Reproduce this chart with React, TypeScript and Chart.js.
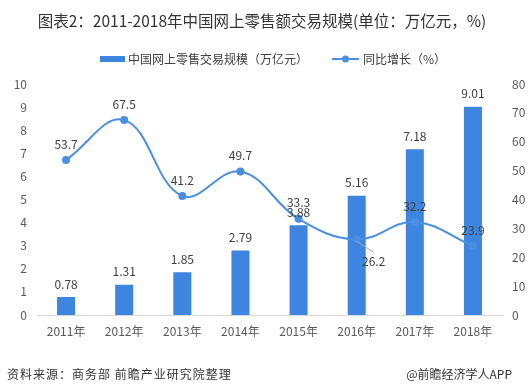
import React, { useEffect, useRef } from "react";
import { Chart, registerables } from "chart.js";
Chart.register(...registerables);

const categories = ["2011年", "2012年", "2013年", "2014年", "2015年", "2016年", "2017年", "2018年"];
const retailScale = [0.78, 1.31, 1.85, 2.79, 3.88, 5.16, 7.18, 9.01];
const growthRate = [53.7, 67.5, 41.2, 49.7, 33.3, 26.2, 32.2, 23.9];
const seriesNames = ["中国网上零售交易规模（万亿元）", "同比增长（%）"];
const titleText = "图表2：2011-2018年中国网上零售额交易规模(单位：万亿元，%)";
const sourceText = "资料来源：商务部 前瞻产业研究院整理";
const brandText = "@前瞻经济学人APP";

const FONT = '"Noto Sans CJK SC", "Microsoft YaHei", sans-serif';
const BAR_COLOR = "#3d85df";
const LINE_COLOR = "#4a8fe2";
const TEXT = "#404040";

const overlayPlugin = {
  id: "overlay",
  afterDatasetsDraw(chart: any) {
    const ctx = chart.ctx;
    ctx.save();
    ctx.font = `12px ${FONT}`;
    ctx.fillStyle = TEXT;
    ctx.textAlign = "center";
    ctx.textBaseline = "middle";
    const barMeta = chart.getDatasetMeta(0);
    barMeta.data.forEach((el: any, i: number) => {
      ctx.fillText(String(retailScale[i]), el.x, el.y - 13);
    });
    const lineMeta = chart.getDatasetMeta(1);
    lineMeta.data.forEach((el: any, i: number) => {
      const txt = growthRate[i].toFixed(1);
      if (i === 5) {
        ctx.strokeStyle = "#a6a6a6";
        ctx.lineWidth = 1;
        ctx.beginPath();
        ctx.moveTo(el.x, el.y + 2);
        ctx.lineTo(el.x + 17, el.y + 13);
        ctx.stroke();
        ctx.fillText(txt, el.x + 17, el.y + 22);
      } else {
        ctx.fillText(txt, el.x, el.y - 16);
      }
    });
    ctx.restore();
  },
  afterDraw(chart: any) {
    const ctx = chart.ctx;
    ctx.save();
    // title
    ctx.fillStyle = "#333333";
    ctx.font = `15.5px ${FONT}`;
    ctx.textAlign = "center";
    ctx.textBaseline = "middle";
    ctx.fillText(titleText, 262, 21);
    // legend
    ctx.font = `12px ${FONT}`;
    ctx.textAlign = "left";
    ctx.fillStyle = BAR_COLOR;
    ctx.fillRect(100, 56, 25, 6);
    ctx.fillStyle = TEXT;
    ctx.fillText(seriesNames[0], 128, 59);
    ctx.strokeStyle = LINE_COLOR;
    ctx.lineWidth = 2;
    ctx.beginPath();
    ctx.moveTo(332, 59);
    ctx.lineTo(359, 59);
    ctx.stroke();
    ctx.fillStyle = LINE_COLOR;
    ctx.beginPath();
    ctx.arc(345.5, 59, 3.5, 0, Math.PI * 2);
    ctx.fill();
    ctx.fillStyle = TEXT;
    ctx.fillText(seriesNames[1], 363, 59);
    // footer
    ctx.fillStyle = "#333333";
    ctx.font = `12px ${FONT}`;
    (ctx as any).letterSpacing = "1px";
    ctx.fillText(sourceText, 7, 374);
    (ctx as any).letterSpacing = "0px";
    ctx.textAlign = "right";
    ctx.fillText(brandText, 512, 374);
    ctx.restore();
  },
};

export default function App() {
  const ref = useRef<HTMLCanvasElement>(null);
  useEffect(() => {
    if (!ref.current) return;
    const chart = new Chart(ref.current, {
      type: "bar",
      data: {
        labels: categories,
        datasets: [
          {
            type: "bar",
            label: seriesNames[0],
            data: retailScale,
            backgroundColor: BAR_COLOR,
            barPercentage: 0.31,
            categoryPercentage: 1,
            yAxisID: "y",
            order: 2,
          } as any,
          {
            type: "line",
            label: seriesNames[1],
            data: growthRate,
            borderColor: LINE_COLOR,
            backgroundColor: LINE_COLOR,
            borderWidth: 2,
            pointRadius: 4,
            pointBackgroundColor: LINE_COLOR,
            pointBorderWidth: 0,
            tension: 0.4,
            yAxisID: "y1",
            order: 1,
          } as any,
        ],
      },
      options: {
        responsive: false,
        animation: false,
        events: [],
        layout: { padding: { top: 84, bottom: 44, left: 0, right: 0 } },
        plugins: { legend: { display: false }, title: { display: false }, tooltip: { enabled: false } },
        scales: {
          x: {
            grid: { display: false, drawTicks: false },
            border: { display: true, color: "#d9d9d9", width: 1 },
            ticks: { color: "#595959", font: { family: FONT, size: 12 }, padding: 9, maxRotation: 0 },
            afterFit: (s: any) => { s.height = 30; },
          },
          y: {
            position: "left",
            min: 0,
            max: 10,
            grid: { display: false, drawTicks: false },
            border: { display: false },
            ticks: { stepSize: 1, color: "#595959", font: { family: FONT, size: 12 }, padding: 10 },
            afterFit: (s: any) => { s.width = 37; },
          },
          y1: {
            position: "right",
            min: 0,
            max: 80,
            grid: { display: false, drawTicks: false },
            border: { display: false },
            ticks: { stepSize: 10, color: "#595959", font: { family: FONT, size: 12 }, padding: 10 },
            afterFit: (s: any) => { s.width = 30; },
          },
        },
      } as any,
      plugins: [overlayPlugin],
    });
    return () => chart.destroy();
  }, []);
  return (
    <div style={{ position: "absolute", left: 0, top: 0, width: 532, height: 389, background: "#fff" }}>
      <canvas ref={ref} width={532} height={389} style={{ display: "block" }} />
    </div>
  );
}
